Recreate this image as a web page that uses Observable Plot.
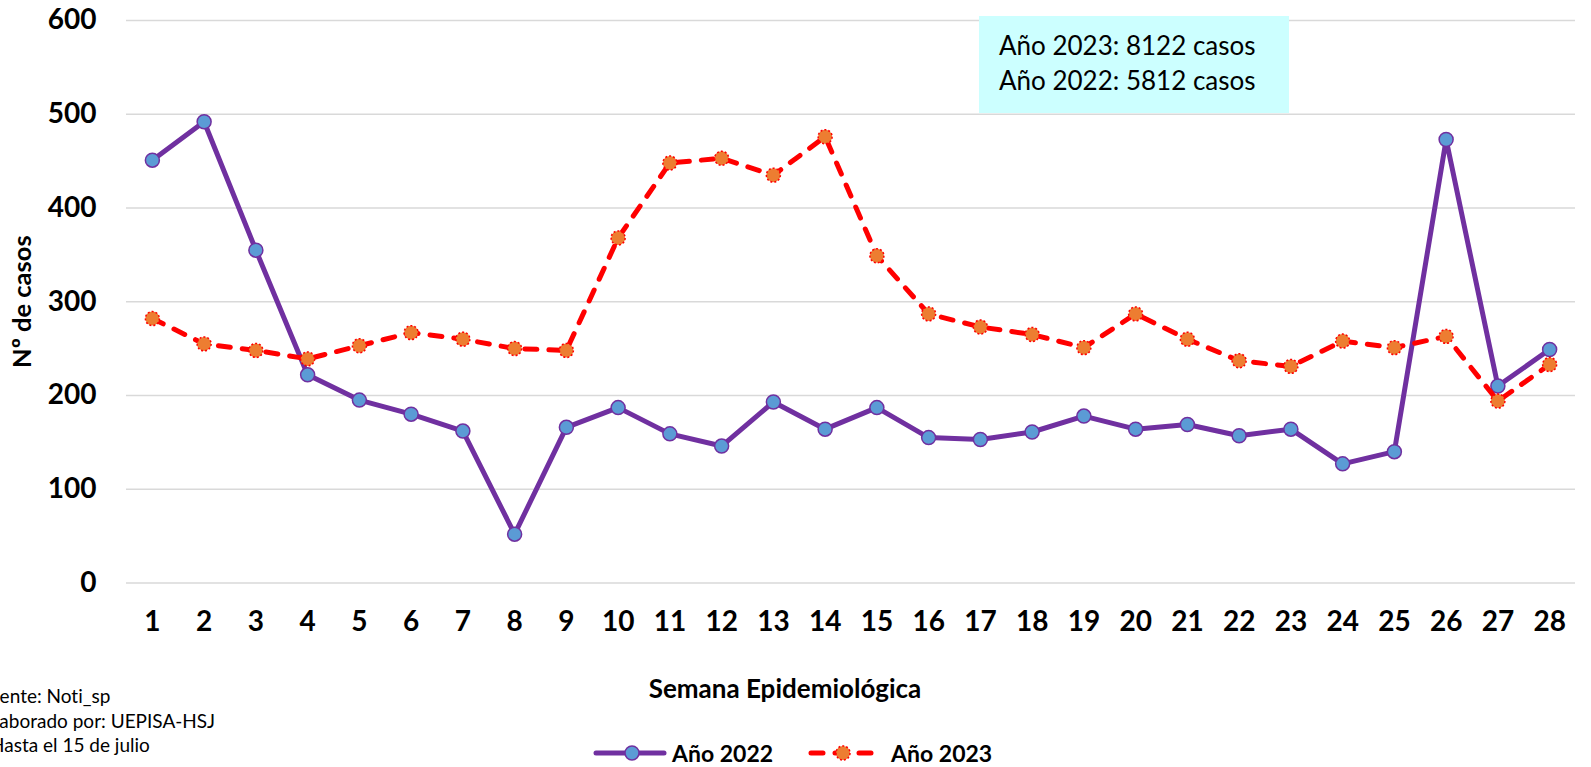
<!DOCTYPE html>
<html>
<head>
<meta charset="utf-8">
<script src="https://cdn.jsdelivr.net/npm/d3@7"></script>
<script src="https://cdn.jsdelivr.net/npm/@observablehq/plot@0.6"></script>
<style>
  html, body { margin: 0; padding: 0; background: #fff; }
  #wrap { position: relative; width: 1591px; height: 767px; overflow: hidden; font-family: Lato, "Open Sans", sans-serif; }
  #box { position: absolute; left: 979px; top: 16px; width: 310px; height: 97px; background: #ccffff; box-sizing: border-box; padding: 12px 0 0 20px; font-size: 26px; line-height: 35px; color: #000; }
  .foot { position: absolute; font-size: 19px; color: #000; white-space: nowrap; line-height: 20px; font-variant-ligatures: none; }
  #legend { position: absolute; left: 592px; top: 738px; height: 30px; display: flex; align-items: center; font-size: 23px; font-weight: bold; white-space: nowrap; }
  #legend svg { display: block; }
</style>
</head>
<body>
<div id="wrap"></div>
<script>
const weeks = [1,2,3,4,5,6,7,8,9,10,11,12,13,14,15,16,17,18,19,20,21,22,23,24,25,26,27,28];
const cases2022 = [451,492,355,222,195,180,162,52,166,187,159,146,193,164,187,155,153,161,178,164,169,157,164,127,140,473,210,249];
const cases2023 = [282,255,248,239,253,267,260,250,248,368,448,453,435,476,349,287,273,265,251,287,260,237,231,258,251,263,194,233];
const yTicks = [0,100,200,300,400,500,600];
const seriesNames = ["Año 2022", "Año 2023"];
const totals = [5812, 8122];
const footLines = ["Fuente: Noti_sp", "Elaborado por: UEPISA-HSJ", "Hasta el 15 de julio"];
const yTitle = "Nº de casos";
const xTitle = "Semana Epidemiológica";

const purple = "#7030A0", blueFill = "#5B9BD5", red = "#FF0000", orangeFill = "#ED7D31";

const d2022 = weeks.map((w, i) => ({week: w, value: cases2022[i]}));
const d2023 = weeks.map((w, i) => ({week: w, value: cases2023[i]}));

const chart = Plot.plot({
  width: 1591,
  height: 767,
  marginLeft: 126,
  marginRight: 16,
  marginTop: 20,
  marginBottom: 184.6,
  style: {fontFamily: "Lato, 'Open Sans', sans-serif", background: "white", color: "#000"},
  x: {type: "point", domain: weeks, padding: 0.5, round: false},
  y: {domain: [0, 600]},
  marks: [
    Plot.gridY(yTicks, {stroke: "#d9d9d9", strokeOpacity: 1, strokeWidth: 1.5}),
    Plot.axisY(yTicks, {tickSize: 0, tickPadding: 30, fontSize: 28, fontWeight: "bold", label: null, fill: "#000"}),
    Plot.axisX(weeks, {tickSize: 0, tickPadding: 28, fontSize: 28, fontWeight: "bold", label: null, fill: "#000"}),
    Plot.text([yTitle], {frameAnchor: "left", rotate: -90, dx: -104, textAnchor: "middle", lineAnchor: "middle", fontSize: 25.5, fontWeight: "bold", fill: "#000"}),
    Plot.text([xTitle], {frameAnchor: "bottom", dx: -66, dy: 107, textAnchor: "middle", lineAnchor: "middle", fontSize: 26, fontWeight: "bold", fill: "#000"}),
    Plot.line(d2022, {x: "week", y: "value", stroke: purple, strokeWidth: 5, strokeLinejoin: "round"}),
    Plot.dot(d2022, {x: "week", y: "value", r: 7, fill: blueFill, stroke: purple, strokeWidth: 1.5}),
    Plot.line(d2023, {x: "week", y: "value", stroke: red, strokeWidth: 5, strokeDasharray: "12,12", strokeLinecap: "round", strokeLinejoin: "round"}),
    Plot.dot(d2023, {x: "week", y: "value", r: 7, fill: orangeFill, stroke: red, strokeWidth: 1.5, strokeDasharray: "2,2"})
  ]
});

const wrap = document.getElementById("wrap");
wrap.appendChild(chart);
chart.style.position = "absolute";
chart.style.left = "0";
chart.style.top = "0";

// annotation box
const box = document.createElement("div");
box.id = "box";
box.innerHTML = `${seriesNames[1]}: ${totals[1]} casos<br>${seriesNames[0]}: ${totals[0]} casos`;
wrap.appendChild(box);

// footnote (cut at the left edge, as in the reference)
const footPos = [{left: -21, top: 686}, {left: -16, top: 711}, {left: -10, top: 735}];
footLines.forEach((t, i) => {
  const d = document.createElement("div");
  d.className = "foot";
  d.style.left = footPos[i].left + "px";
  d.style.top = footPos[i].top + "px";
  d.textContent = t;
  wrap.appendChild(d);
});

// legend
const legend = document.createElement("div");
legend.id = "legend";
legend.innerHTML = `
<svg width="76" height="20"><line x1="4" y1="10" x2="72" y2="10" stroke="${purple}" stroke-width="5" stroke-linecap="round"/><circle cx="40" cy="10" r="7" fill="${blueFill}" stroke="${purple}" stroke-width="1.5"/></svg>
<span style="margin-left:4px">${seriesNames[0]}</span>
<svg width="76" height="20" style="margin-left:32px"><line x1="6" y1="10" x2="72" y2="10" stroke="${red}" stroke-width="5" stroke-dasharray="12,12" stroke-linecap="round"/><circle cx="38" cy="10" r="7" fill="${orangeFill}" stroke="${red}" stroke-width="1.5" stroke-dasharray="2,2"/></svg>
<span style="margin-left:10px">${seriesNames[1]}</span>`;
wrap.appendChild(legend);
</script>
</body>
</html>
